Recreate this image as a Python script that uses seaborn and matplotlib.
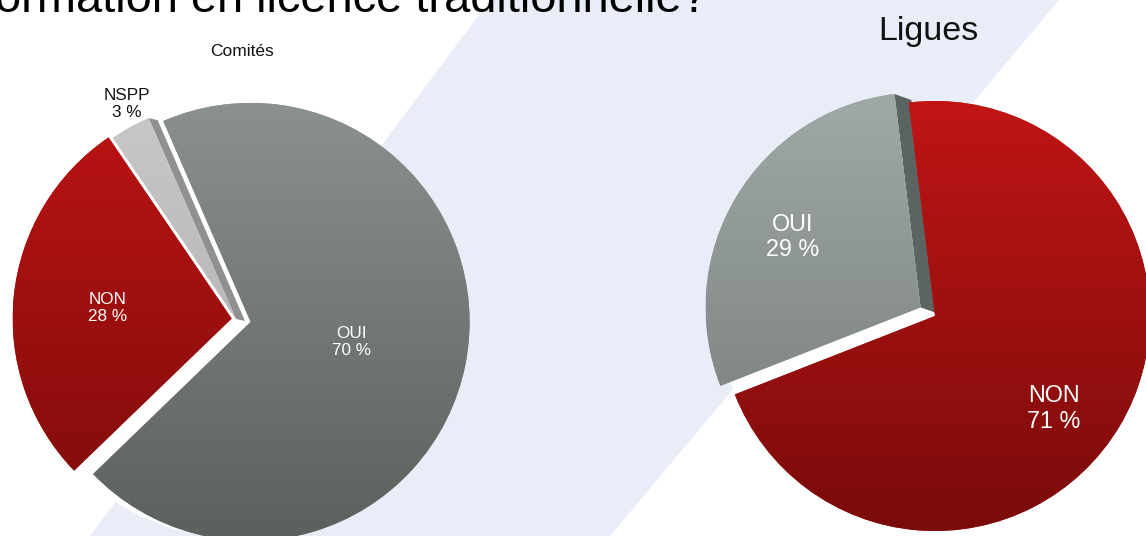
import numpy as np
import matplotlib
matplotlib.use("Agg")
import matplotlib.pyplot as plt
import seaborn as sns
from matplotlib.patches import Polygon

# ---------------- data ----------------
header_text = "ormation en licence traditionnelle?"
comites_title = "Comités"
comites_labels = ["OUI", "NSPP", "NON"]
comites_values = [70, 3, 28]
ligues_title = "Ligues"
ligues_labels = ["OUI", "NON"]
ligues_values = [29, 71]

# ---------------- style ----------------
W, H = 1146, 536
sns.set_theme(style="white")
plt.rcParams['font.family'] = ['Liberation Sans', 'DejaVu Sans']

fig = plt.figure(figsize=(W / 100, H / 100), dpi=100)
ax = fig.add_axes([0, 0, 1, 1])


def px(x, y):
    """pixel (from top-left) -> data coords (y up)"""
    return (x, H - y)


# slide background band
ax.add_patch(Polygon([px(490, 0), px(1059, 0), px(610, 536), px(90, 536)],
                     closed=True, facecolor="#E9EDF7", edgecolor="none", zorder=0))


def draw_pie(values, labels, center_px, radius, startangle, explode, grads,
             side, txt_pos, txt_colors, fs):
    cx, cy = px(*center_px)
    expl = [e * radius for e in explode]  # pie's explode is in data units
    # white base disk -> white gaps between exploded slices
    ax.pie(values, radius=radius, center=(cx, cy), startangle=startangle,
           colors=["white"] * len(values), wedgeprops=dict(linewidth=0, zorder=1))
    wedges, _ = ax.pie(values, radius=radius, center=(cx, cy), startangle=startangle,
                       explode=expl, colors=[g[0] for g in grads],
                       wedgeprops=dict(linewidth=0, zorder=3))
    # 3D side face
    if side is not None:
        idx, (dx, dy), scol = side
        w = wedges[idx]
        t = np.deg2rad(w.theta1)
        vx, vy = w.center
        ex, ey = vx + radius * np.cos(t), vy + radius * np.sin(t)
        ax.add_patch(Polygon([(vx, vy), (ex, ey), (ex + dx, ey + dy), (vx + dx, vy + dy)],
                             closed=True, facecolor=scol, edgecolor="none", zorder=2))
    # gradient shading clipped to each slice
    grad = np.linspace(0, 1, 256).reshape(-1, 1)
    for w, (c_top, c_bot) in zip(wedges, grads):
        cmap = sns.blend_palette([c_bot, c_top], as_cmap=True)
        wx, wy = w.center
        im = ax.imshow(grad, cmap=cmap, origin="lower", aspect="auto",
                       extent=(wx - radius, wx + radius, wy - radius, wy + radius),
                       interpolation="bilinear", zorder=3.5)
        im.set_clip_path(w)
    # labels
    for w, lab, val, (dist, dang), col in zip(wedges, labels, values, txt_pos, txt_colors):
        a = np.deg2rad((w.theta1 + w.theta2) / 2 + dang)
        wx, wy = w.center
        ax.text(wx + dist * radius * np.cos(a), wy + dist * radius * np.sin(a),
                f"{lab}\n{val} %", ha="center", va="center", color=col,
                fontsize=fs, linespacing=1.15, zorder=5)


# Comités pie
draw_pie(comites_values, comites_labels, center_px=(236, 319), radius=219,
         startangle=224, explode=[0.068, 0.0, 0.02],
         grads=[("#8b918e", "#5b605d"), ("#c8c8c8", "#a9a9a9"), ("#bd1414", "#7c0b0b")],
         side=(1, (9, -2), "#8e918f"),
         txt_pos=[(0.47, 0), (1.1, -2), (0.57, 1)],
         txt_colors=["white", "#111111", "white"], fs=12.3)

# Ligues pie
draw_pie(ligues_values, ligues_labels, center_px=(935, 316), radius=215,
         startangle=97, explode=[0.078, 0.0],
         grads=[("#a1a9a6", "#727976"), ("#c01515", "#7a0b0b")],
         side=(0, (17, -6), "#5c6461"),
         txt_pos=[(0.68, 2), (0.70, -7)],
         txt_colors=["white", "white"], fs=16.8)

# titles
ax.text(*px(242, 52), comites_title, ha="center", va="center", fontsize=12.5,
        color="#111111", zorder=5)
ax.text(*px(928, 40), ligues_title, ha="center", va="baseline", fontsize=24.5,
        color="#111111", zorder=5)
ax.text(*px(-5, 12), header_text, ha="left", va="baseline", fontsize=33.8,
        color="black", zorder=5)

ax.set_xlim(0, W)
ax.set_ylim(0, H)
ax.set_aspect("equal")
ax.axis("off")
fig.savefig("out.png", dpi=100, facecolor="white")
